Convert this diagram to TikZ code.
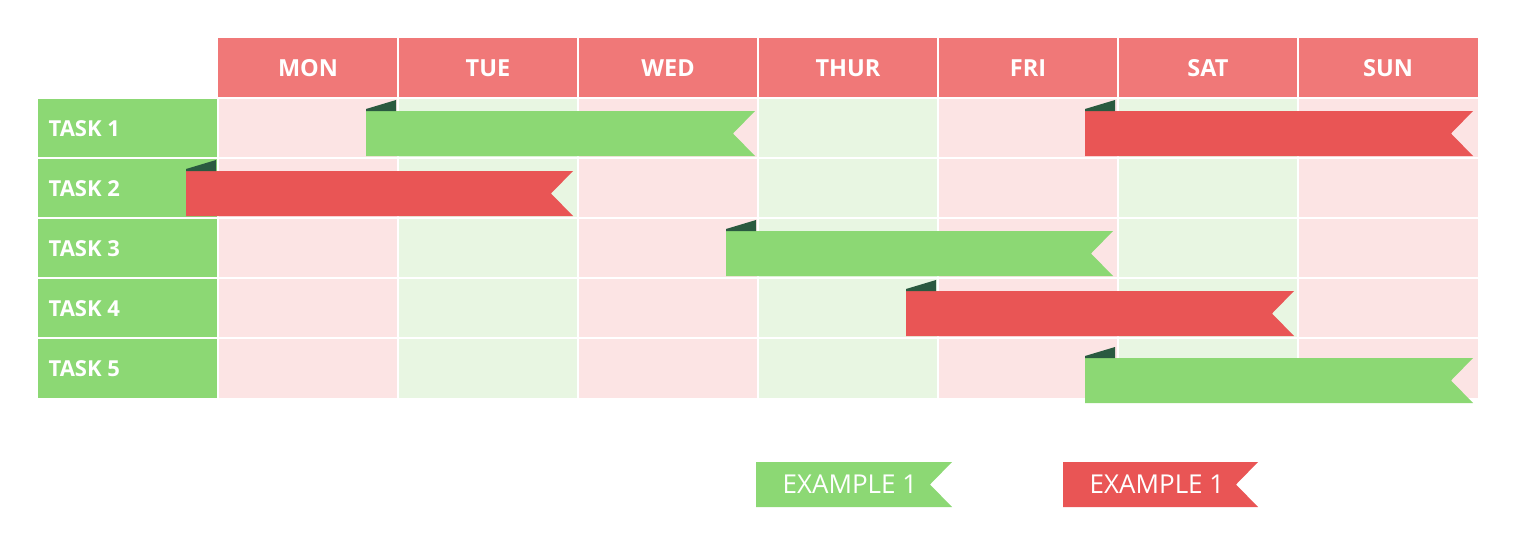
\documentclass[tikz,border=0pt]{standalone}
\usepackage{fontspec}
\setmainfont{Open Sans}

\definecolor{headred}{RGB}{240,120,120}
\definecolor{cellpink}{RGB}{252,228,228}
\definecolor{cellgreen}{RGB}{232,246,226}
\definecolor{taskgreen}{RGB}{140,216,116}
\definecolor{barred}{RGB}{233,85,85}
\definecolor{folddark}{RGB}{42,90,64}

\tikzset{
    daylabel/.style={text=white, font=\fontsize{23.5}{23.5}\selectfont\bfseries},
    tasklabel/.style={text=white, anchor=west, font=\fontsize{22}{22}\selectfont\bfseries},
    keylabel/.style={text=white, font=\fontsize{26}{26}\selectfont},
    gridline/.style={draw=white, line width=2pt}
}

% ribbon bar: #1 colour, (#2,#3) top left, #4 right end
\newcommand{\ganttbar}[4]{%
    \fill[#1] (#2,#3) -- (#4,#3) -- (#4-22,#3+22.5) -- (#4,#3+45) -- (#2,#3+45) -- cycle;
    \fill[folddark] (#2,#3) -- (#2,#3-2) -- (#2+30,#3-11) -- (#2+30,#3) -- cycle;
}

\begin{document}
\begin{tikzpicture}[x=1pt, y=-1pt]
        \useasboundingbox (0,0) rectangle (1514,544);

        % header and task column
        \fill[headred] (218,38) rectangle (1478,98);
        \fill[taskgreen] (38,98) rectangle (218,398);

        % day columns
        \fill[cellpink] (218,98) rectangle (398,398);
        \fill[cellgreen] (398,98) rectangle (578,398);
        \fill[cellpink] (578,98) rectangle (758,398);
        \fill[cellgreen] (758,98) rectangle (938,398);
        \fill[cellpink] (938,98) rectangle (1118,398);
        \fill[cellgreen] (1118,98) rectangle (1298,398);
        \fill[cellpink] (1298,98) rectangle (1478,398);

        % white grid lines
        \draw[gridline] (218,98) -- (218,398);
        \draw[gridline] (398,38) -- (398,398);
        \draw[gridline] (578,38) -- (578,398);
        \draw[gridline] (758,38) -- (758,398);
        \draw[gridline] (938,38) -- (938,398);
        \draw[gridline] (1118,38) -- (1118,398);
        \draw[gridline] (1298,38) -- (1298,398);
        \draw[gridline] (38,98) -- (1478,98);
        \draw[gridline] (38,158) -- (1478,158);
        \draw[gridline] (38,218) -- (1478,218);
        \draw[gridline] (38,278) -- (1478,278);
        \draw[gridline] (38,338) -- (1478,338);

        \node[daylabel] (mon) at (308,68) {MON};
        \node[daylabel] (tue) at (488,68) {TUE};
        \node[daylabel] (wed) at (668,68) {WED};
        \node[daylabel] (thur) at (848,68) {THUR};
        \node[daylabel] (fri) at (1028,68) {FRI};
        \node[daylabel] (sat) at (1208,68) {SAT};
        \node[daylabel] (sun) at (1388,68) {SUN};

        \node[tasklabel] (task1) at (45,128.5) {TASK 1};
        \node[tasklabel] (task2) at (45,188.5) {TASK 2};
        \node[tasklabel] (task3) at (45,248.5) {TASK 3};
        \node[tasklabel] (task4) at (45,308.5) {TASK 4};
        \node[tasklabel] (task5) at (45,368.5) {TASK 5};

        % bars
        \ganttbar{taskgreen}{366}{111}{755}
        \ganttbar{barred}{1085}{111}{1473}
        \ganttbar{barred}{186}{171}{573}
        \ganttbar{taskgreen}{726}{231}{1113}
        \ganttbar{barred}{906}{291}{1294}
        \ganttbar{taskgreen}{1085}{358}{1473}

        % legend
        \fill[taskgreen] (756,462) -- (952,462) -- (930,484.5) -- (952,507) -- (756,507) -- cycle;
        \fill[barred] (1063,462) -- (1258,462) -- (1236,484.5) -- (1258,507) -- (1063,507) -- cycle;
        \node[keylabel] (keygreen) at (850,484.5) {EXAMPLE 1};
        \node[keylabel] (keyred) at (1157,484.5) {EXAMPLE 1};
    \end{tikzpicture}
\end{document}
